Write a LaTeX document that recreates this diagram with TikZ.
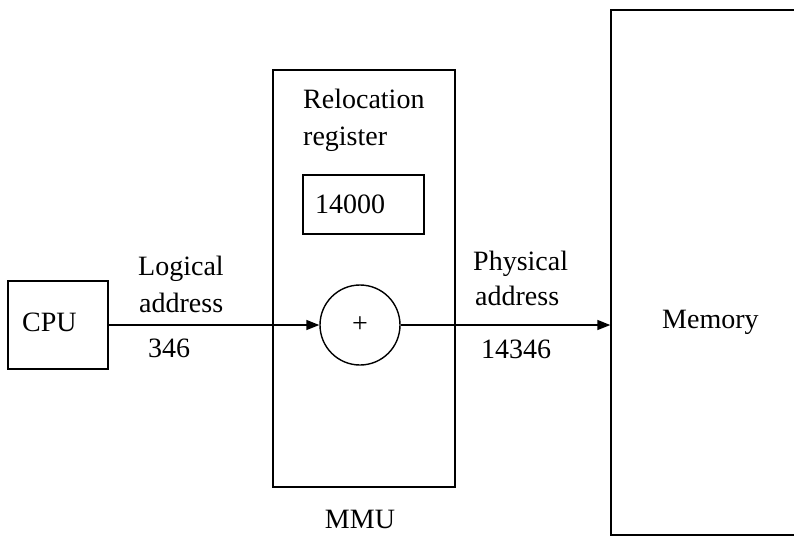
\documentclass[tikz,border=0pt]{standalone}
\usepackage{fontspec}
\setmainfont{Liberation Serif}
\usetikzlibrary{arrows.meta}
\begin{document}
\begin{tikzpicture}[x=1pt,y=-1pt,
  box/.style={draw, line width=1.4pt, inner sep=0pt},
  lbl/.style={inner sep=0pt, font=\fontsize{28}{34}\selectfont},
  conn/.style={line width=1.4pt, -{Triangle[length=13pt,width=10pt]}}]
\useasboundingbox (0,0) rectangle (794,536);
\clip (0,0) rectangle (794,536);
% boxes
\node[box, minimum width=100pt, minimum height=88pt] (cpu) at (58,325) {};
\node[box, minimum width=182pt, minimum height=417pt] (mmu) at (364,278.5) {};
\node[box, minimum width=121pt, minimum height=59pt] (reg) at (363.5,204.5) {};
\node[box, circle, minimum size=80pt, lbl] (adder) at (360,325) {+};
\node[box, minimum width=200pt, minimum height=525pt] (mem) at (711,272.5) {};
% texts
\node[lbl, anchor=base west] (cputxt) at (22,331) {CPU};
\node[lbl, anchor=base west] (reloc) at (303,108) {Relocation};
\node[lbl, anchor=base west] (regtxt) at (303,145) {register};
\node[lbl, anchor=base west] (regval) at (315,213) {14000};
\node[lbl, anchor=base west] (logi) at (138,275) {Logical};
\node[lbl, anchor=base west] (laddr) at (139,312) {address};
\node[lbl, anchor=base west] (lval) at (148,357) {346};
\node[lbl, anchor=base west] (phys) at (473,270) {Physical};
\node[lbl, anchor=base west] (paddr) at (475,305) {address};
\node[lbl, anchor=base west] (pval) at (481,358) {14346};
\node[lbl, anchor=base] (mmutxt) at (360,528) {MMU};
\node[lbl, anchor=base west] (memtxt) at (662,328) {Memory};
% connectors
\draw[conn] (cpu.east) -- (adder.west);
\draw[conn] (adder.east) -- (adder.east -| mem.west);
\end{tikzpicture}
\end{document}
